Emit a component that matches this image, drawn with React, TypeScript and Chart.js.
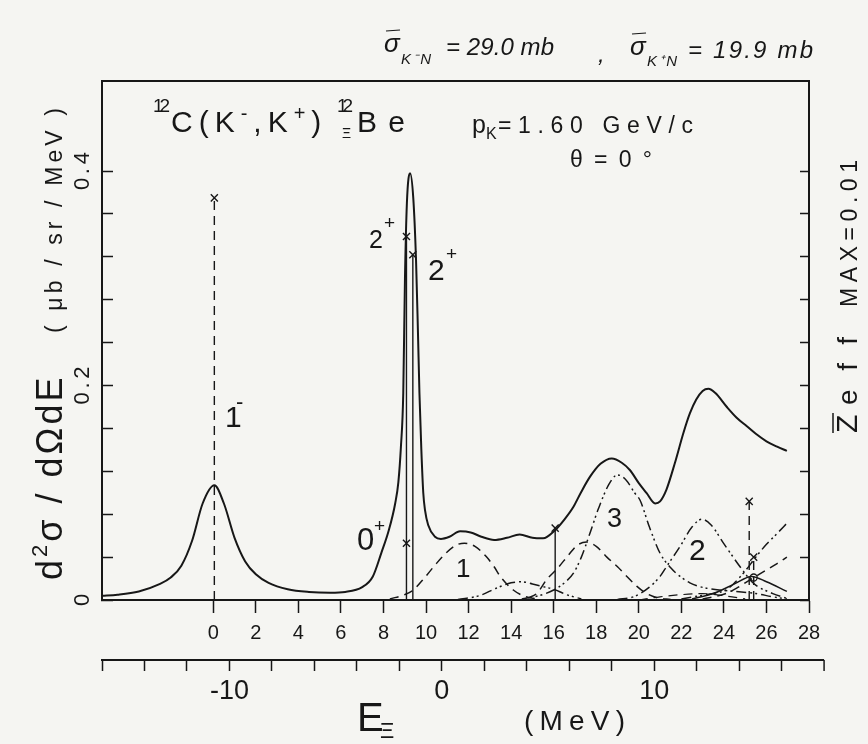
import React, { useEffect, useRef } from "react";
import { Chart, registerables } from "chart.js";

Chart.register(...registerables);

const INK = "#171717";
const PAPER = "#f5f5f2";
const FONT = "'Liberation Sans', Arial, Helvetica, sans-serif";

// ---- axes ----
const upperMin = -5.23;
const upperMax = 28;
const lowerMin = -16;
const lowerMax = 17.29;
const upperTickValues = [0, 2, 4, 6, 8, 10, 12, 14, 16, 18, 20, 22, 24, 26, 28];
const lowerTickValues = [-16, -14, -12, -10, -8, -6, -4, -2, 0, 2, 4, 6, 8, 10, 12, 14, 16];
const lowerTickLabels = [-10, 0, 10];
const yMax = 0.484;
const yTickValues = [0, 0.04, 0.08, 0.12, 0.16, 0.2, 0.24, 0.28, 0.32, 0.36, 0.4];
const yTickLabels = ["0", "0.2", "0.4"];
const yTickLabelValues = [0, 0.2, 0.4];

// ---- total spectrum (solid) ----
const totalE = [-5.25, -4.5, -3.5, -2.5, -2.0, -1.5, -1.0, -0.5, 0.05, 0.5, 1.0, 1.5, 2.0, 2.6, 3.5, 4.5, 5.5, 6.2, 7.0, 7.5, 7.9, 8.25, 8.55, 8.7, 8.82, 8.93, 9.01, 9.1, 9.25, 9.4, 9.53, 9.62, 9.69, 9.78, 9.87, 9.95, 10.1, 10.42, 10.7, 11.1, 11.6, 12.1, 12.6, 13.2, 13.8, 14.4, 15.0, 15.5, 16.06, 16.5, 16.93, 17.3, 17.71, 18.2, 18.73, 19.2, 19.59, 20.0, 20.37, 20.77, 21.0, 21.3, 21.7, 22.1, 22.4, 22.7, 23.0, 23.27, 23.6, 24.14, 24.6, 25.08, 25.5, 26.0, 26.5, 26.96];
const totalY = [0.004, 0.005, 0.008, 0.015, 0.021, 0.032, 0.055, 0.09, 0.107, 0.09, 0.058, 0.036, 0.024, 0.016, 0.010, 0.0075, 0.0068, 0.0075, 0.012, 0.022, 0.044, 0.065, 0.09, 0.11, 0.143, 0.193, 0.30, 0.37, 0.398, 0.375, 0.317, 0.25, 0.193, 0.14, 0.10, 0.084, 0.07, 0.059, 0.057, 0.059, 0.064, 0.063, 0.059, 0.056, 0.058, 0.061, 0.058, 0.0575, 0.065, 0.075, 0.087, 0.101, 0.115, 0.127, 0.132, 0.128, 0.121, 0.109, 0.0996, 0.090, 0.092, 0.103, 0.128, 0.156, 0.174, 0.187, 0.195, 0.197, 0.193, 0.180, 0.170, 0.162, 0.155, 0.148, 0.143, 0.139];

// ---- components ----
const comp1E = [8.3, 9.0, 9.4, 9.9, 10.4, 10.9, 11.4, 11.8, 12.3, 12.85, 13.2, 13.5, 14.1, 14.7, 15.3];
const comp1Y = [0.001, 0.005, 0.0093, 0.02, 0.032, 0.043, 0.051, 0.053, 0.050, 0.040, 0.031, 0.0217, 0.0093, 0.003, 0.0008];

const bumpE = [11.5, 12.5, 13.3, 14.0, 14.5, 15.0, 15.6, 16.0, 16.6, 17.3];
const bumpY = [0.0005, 0.004, 0.011, 0.016, 0.017, 0.015, 0.012, 0.010, 0.005, 0.001];

const compAE = [14.8, 15.2, 15.67, 16.2, 16.7, 17.1, 17.55, 18.0, 18.5, 19.0, 19.44, 19.9, 20.37, 20.9, 21.5];
const compAY = [0.002, 0.006, 0.019, 0.030, 0.042, 0.051, 0.054, 0.050, 0.040, 0.031, 0.022, 0.013, 0.006, 0.002, 0.0005];

const comp3E = [14.5, 15.3, 16.0, 16.5, 16.93, 17.3, 17.7, 18.1, 18.6, 19.0, 19.4, 19.8, 20.06, 20.5, 21.0, 21.5, 21.94, 22.4, 22.88, 23.5, 24.5, 25.5, 26.3, 26.96];
const comp3Y = [0.001, 0.004, 0.0093, 0.016, 0.025, 0.040, 0.062, 0.085, 0.108, 0.1167, 0.112, 0.100, 0.093, 0.068, 0.0436, 0.030, 0.022, 0.016, 0.0124, 0.010, 0.008, 0.006, 0.003, 0.001];

const comp2E = [19.0, 19.75, 20.5, 21.0, 21.3, 21.94, 22.5, 22.96, 23.4, 23.98, 24.4, 24.76, 25.39, 26.3, 26.96];
const comp2Y = [0.0005, 0.003, 0.012, 0.022, 0.031, 0.050, 0.068, 0.0753, 0.070, 0.053, 0.041, 0.031, 0.0156, 0.006, 0.0015];

const riseAE = [22.0, 22.9, 23.5, 24.1, 24.5, 25.0, 25.5, 26.0, 26.5, 26.96];
const riseAY = [0.001, 0.004, 0.006, 0.0093, 0.016, 0.027, 0.040, 0.052, 0.062, 0.0716];

const riseBE = [23.0, 23.5, 24.1, 24.6, 25.0, 25.5, 26.0, 26.5, 26.96];
const riseBY = [0.001, 0.003, 0.006, 0.011, 0.016, 0.022, 0.028, 0.034, 0.040];

const humpE = [22.5, 23.5, 24.5, 25.3, 26.0, 26.96];
const humpY = [0.001, 0.006, 0.015, 0.022, 0.017, 0.008];

const lowE = [20.0, 21.0, 22.0, 23.0, 24.0, 25.0];
const lowY = [0.0, 0.003, 0.005, 0.006, 0.004, 0.001];

// ---- state strengths (sticks) ----
const stickE = [0.05, 9.08, 9.38, 16.07, 25.19, 25.4];
const stickTop = [0.375, 0.339, 0.322, 0.067, 0.092, 0.040];
const stickDashed = [true, false, false, false, true, true];
const crossE = [9.08];
const crossY = [0.053];
const ringE = [25.4];
const ringY = [0.021];

const DASH = [9, 6];
const DASHDOT2 = [10, 4, 2, 3, 2, 4];

function pts(xs: number[], ys: number[]) {
  return xs.map((x, i) => ({ x, y: ys[i] }));
}

function put(
  ctx: CanvasRenderingContext2D,
  s: string,
  x: number,
  y: number,
  size: number,
  o: { w?: number; rot?: boolean; center?: boolean; italic?: boolean } = {}
) {
  ctx.save();
  ctx.font = `${o.italic ? "italic " : ""}${size}px ${FONT}`;
  ctx.fillStyle = INK;
  ctx.textBaseline = "alphabetic";
  ctx.textAlign = "left";
  (ctx as any).letterSpacing = "0px";
  const w0 = ctx.measureText(s).width;
  const n = Array.from(s).length;
  let ls = 0;
  if (o.w && n > 1) ls = (o.w - w0) / (n - 1);
  (ctx as any).letterSpacing = ls + "px";
  const total = w0 + ls * (n - 1);
  ctx.translate(x, y);
  if (o.rot) ctx.rotate(-Math.PI / 2);
  ctx.fillText(s, o.center ? -total / 2 : 0, 0);
  ctx.restore();
}

function seq(
  ctx: CanvasRenderingContext2D,
  x: number,
  y: number,
  rot: boolean,
  ls: number,
  parts: [string, number, number][]
) {
  ctx.save();
  ctx.translate(x, y);
  if (rot) ctx.rotate(-Math.PI / 2);
  ctx.fillStyle = INK;
  ctx.textBaseline = "alphabetic";
  ctx.textAlign = "left";
  let cx = 0;
  for (const [t, size, rise] of parts) {
    ctx.font = `${size}px ${FONT}`;
    (ctx as any).letterSpacing = "0px";
    const w = ctx.measureText(t).width;
    (ctx as any).letterSpacing = ls + "px";
    ctx.fillText(t, cx, -rise);
    cx += w + ls * Array.from(t).length;
  }
  ctx.restore();
}

function line(ctx: CanvasRenderingContext2D, x1: number, y1: number, x2: number, y2: number, w = 1.5) {
  ctx.save();
  ctx.strokeStyle = INK;
  ctx.lineWidth = w;
  ctx.beginPath();
  ctx.moveTo(x1, y1);
  ctx.lineTo(x2, y2);
  ctx.stroke();
  ctx.restore();
}

const decor = {
  id: "decor",
  afterDraw(chart: any) {
    const ctx: CanvasRenderingContext2D = chart.ctx;
    const ca = chart.chartArea;
    const ys = chart.scales.y;
    const x2 = chart.scales.x2;

    // lower axis runs on past the frame
    const ay = x2.top;
    const xEnd = x2.getPixelForValue(18);
    line(ctx, ca.right - 1, ay, xEnd, ay, 2);
    line(ctx, xEnd, ay, xEnd, ay + 11, 1.5);

    // y tick labels (rotated)
    yTickLabelValues.forEach((v, i) => {
      const py = ys.getPixelForValue(v);
      put(ctx, yTickLabels[i], 89, py, 22, { rot: true, center: true, w: i === 0 ? undefined : 38 });
    });

    // y axis title
    seq(ctx, 62, 580, true, 3, [
      ["d", 36, 0],
      ["2", 22, 15],
      ["σ", 36, 0],
      [" / ", 36, 0],
      ["dΩdE", 36, 0],
    ]);
    put(ctx, "( μb / sr / MeV )", 62, 333, 23, { rot: true, w: 225 });

    // hand-written cross sections
    put(ctx, "σ", 384, 52, 26, { italic: true });
    line(ctx, 386, 31, 400, 30, 1.2);
    put(ctx, "K⁻N", 401, 64, 15, { w: 30, italic: true });
    put(ctx, "= 29.0 mb", 446, 55, 24, { w: 108, italic: true });
    put(ctx, ",", 598, 62, 24, { italic: true });
    put(ctx, "σ", 630, 55, 26, { italic: true });
    line(ctx, 632, 34, 646, 33, 1.2);
    put(ctx, "K⁺N", 647, 66, 15, { w: 30, italic: true });
    put(ctx, "= 19.9 mb", 688, 58, 24, { w: 125, italic: true });

    // reaction
    put(ctx, "12", 153, 112, 19, { w: 17 });
    seq(ctx, 171, 132, false, 6, [
      ["C(K", 30, 0],
      ["-", 20, 12],
      [",K", 30, 0],
      ["+", 20, 12],
      [")", 30, 0],
    ]);
    put(ctx, "12", 337, 112, 19, { w: 16 });
    put(ctx, "Ξ", 342, 138, 14);
    put(ctx, "Be", 357, 132, 30, { w: 48 });

    put(ctx, "p", 472, 133, 25);
    put(ctx, "K", 486, 139, 16);
    put(ctx, "=1.60 GeV/c", 498, 133, 23, { w: 195 });
    put(ctx, "θ=0°", 570, 167, 23, { w: 82 });

    // state labels
    put(ctx, "1", 225, 427, 30);
    put(ctx, "-", 236, 409, 22);
    put(ctx, "0", 357, 550, 31);
    put(ctx, "+", 374, 532, 19);
    put(ctx, "2", 369, 248, 25);
    put(ctx, "+", 384, 229, 19);
    put(ctx, "2", 428, 280, 30);
    put(ctx, "+", 446, 260, 19);
    put(ctx, "1", 456, 577, 26);
    put(ctx, "3", 607, 527, 27);
    put(ctx, "2", 689, 560, 30);

    // bottom title
    put(ctx, "E", 357, 731, 40);
    put(ctx, "Ξ", 380, 738, 22);
    put(ctx, "(MeV)", 524, 730, 28, { w: 101 });

    // right side
    put(ctx, "MAX=0.01", 857, 307, 23, { rot: true, w: 147 });
    put(ctx, "Z", 857, 433, 30, { rot: true });
    line(ctx, 833, 433, 833, 413, 1.5);
    put(ctx, "eff", 857, 405, 28, { rot: true, w: 68 });
  },
};

const common = { borderColor: INK, pointRadius: 0, xAxisID: "x", yAxisID: "y", fill: false };

function curve(label: string, xs: number[], ys: number[], width: number, dash: number[]) {
  return {
    ...common,
    label,
    data: pts(xs, ys),
    borderWidth: width,
    borderDash: dash,
    cubicInterpolationMode: "monotone" as const,
  };
}

export default function App() {
  const ref = useRef<HTMLCanvasElement | null>(null);

  useEffect(() => {
    if (!ref.current) return;

    const sticks = stickE.map((e, i) => ({
      ...common,
      label: "stick" + i,
      data: [
        { x: e, y: 0 },
        { x: e, y: stickTop[i] },
      ],
      borderWidth: 1.4,
      borderDash: stickDashed[i] ? DASH : [],
      tension: 0,
      pointRadius: [0, 5],
      pointStyle: "crossRot",
      pointBorderColor: INK,
      pointBorderWidth: 1.4,
    }));

    const datasets: any[] = [
      curve("total", totalE, totalY, 2, []),
      curve("comp1", comp1E, comp1Y, 1.5, DASH),
      curve("bump", bumpE, bumpY, 1.5, DASHDOT2),
      curve("compA", compAE, compAY, 1.5, DASH),
      curve("comp3", comp3E, comp3Y, 1.5, DASHDOT2),
      curve("comp2", comp2E, comp2Y, 1.5, DASHDOT2),
      curve("riseA", riseAE, riseAY, 1.5, DASHDOT2),
      curve("riseB", riseBE, riseBY, 1.5, DASH),
      curve("hump", humpE, humpY, 1.5, []),
      curve("low", lowE, lowY, 1.2, DASH),
      ...sticks,
      {
        ...common,
        label: "marks",
        data: pts(crossE, crossY),
        showLine: false,
        pointRadius: 5,
        pointStyle: "crossRot",
        pointBorderColor: INK,
        pointBorderWidth: 1.4,
      },
      {
        ...common,
        label: "ring",
        data: pts(ringE, ringY),
        showLine: false,
        pointRadius: 3.5,
        pointStyle: "circle",
        pointBackgroundColor: "rgba(0,0,0,0)",
        pointBorderColor: INK,
        pointBorderWidth: 1.3,
      },
    ];

    const tickFont = (size: number) => ({ family: FONT, size });

    const chart = new Chart(ref.current, {
      type: "line",
      data: { datasets },
      plugins: [decor],
      options: {
        animation: false,
        responsive: false,
        events: [],
        layout: { padding: { left: 102, right: 59, top: 81, bottom: 34 } },
        plugins: {
          legend: { display: false },
          tooltip: { enabled: false },
          title: { display: false },
        },
        scales: {
          x: {
            type: "linear",
            position: "bottom",
            weight: 0,
            min: upperMin,
            max: upperMax,
            afterBuildTicks: (s: any) => {
              s.ticks = upperTickValues.map((v) => ({ value: v }));
            },
            afterFit: (s: any) => {
              s.height = 60;
              s.paddingLeft = 0;
              s.paddingRight = 0;
            },
            grid: {
              display: true,
              drawOnChartArea: false,
              drawTicks: true,
              tickLength: 13,
              tickColor: INK,
              tickWidth: 1.5,
            },
            border: { display: true, color: INK, width: 2 },
            ticks: {
              autoSkip: false,
              maxRotation: 0,
              minRotation: 0,
              padding: 8,
              color: INK,
              font: tickFont(20),
              callback: (v: any) => String(v),
            },
          },
          x2: {
            type: "linear",
            position: "bottom",
            weight: 1,
            min: lowerMin,
            max: lowerMax,
            afterBuildTicks: (s: any) => {
              s.ticks = lowerTickValues.map((v) => ({ value: v }));
            },
            afterFit: (s: any) => {
              s.height = 50;
              s.paddingLeft = 0;
              s.paddingRight = 0;
            },
            grid: {
              display: true,
              drawOnChartArea: false,
              drawTicks: true,
              tickLength: 11,
              tickColor: INK,
              tickWidth: 1.5,
            },
            border: { display: true, color: INK, width: 2 },
            ticks: {
              autoSkip: false,
              maxRotation: 0,
              minRotation: 0,
              padding: 4,
              color: INK,
              font: tickFont(27),
              callback: (v: any) => (lowerTickLabels.includes(Number(v)) ? String(v) : ""),
            },
          },
          xTop: {
            type: "linear",
            position: "top",
            min: upperMin,
            max: upperMax,
            afterFit: (s: any) => {
              s.height = 0;
              s.paddingLeft = 0;
              s.paddingRight = 0;
            },
            grid: { display: false },
            border: { display: true, color: INK, width: 2 },
            ticks: { display: false },
          },
          y: {
            type: "linear",
            position: "left",
            min: 0,
            max: yMax,
            afterBuildTicks: (s: any) => {
              s.ticks = yTickValues.map((v) => ({ value: v }));
            },
            afterFit: (s: any) => {
              s.width = 0;
              s.paddingTop = 0;
              s.paddingBottom = 0;
            },
            grid: {
              display: true,
              drawOnChartArea: false,
              drawTicks: true,
              tickLength: -11,
              tickColor: INK,
              tickWidth: 1.5,
            },
            border: { display: true, color: INK, width: 2 },
            ticks: { display: false },
          },
          y2: {
            type: "linear",
            position: "right",
            min: 0,
            max: yMax,
            afterBuildTicks: (s: any) => {
              s.ticks = yTickValues.map((v) => ({ value: v }));
            },
            afterFit: (s: any) => {
              s.width = 0;
              s.paddingTop = 0;
              s.paddingBottom = 0;
            },
            grid: {
              display: true,
              drawOnChartArea: false,
              drawTicks: true,
              tickLength: -9,
              tickColor: INK,
              tickWidth: 1.5,
            },
            border: { display: true, color: INK, width: 2 },
            ticks: { display: false },
          },
        },
      } as any,
    });

    return () => chart.destroy();
  }, []);

  return (
    <div
      style={{
        position: "fixed",
        left: 0,
        top: 0,
        width: 868,
        height: 744,
        background: PAPER,
      }}
    >
      <canvas ref={ref} width={868} height={744} style={{ width: 868, height: 744, display: "block" }} />
    </div>
  );
}
